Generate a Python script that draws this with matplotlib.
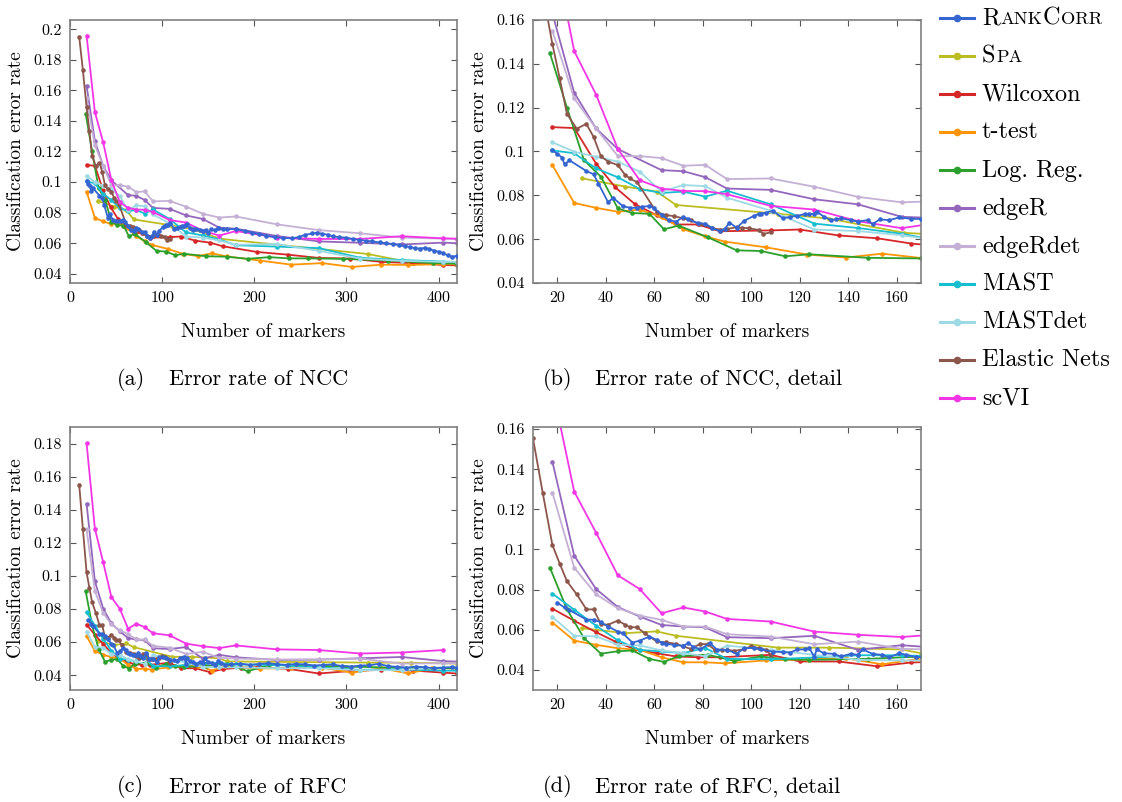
import matplotlib
matplotlib.use('Agg')
import matplotlib.pyplot as plt
from matplotlib.lines import Line2D
from matplotlib.ticker import FuncFormatter, MultipleLocator

plt.rcParams['font.family'] = ['cmr10', 'DejaVu Serif']
plt.rcParams['mathtext.fontset'] = 'cm'
plt.rcParams['axes.formatter.use_mathtext'] = True

# ---------------- data: NCC ----------------
ncc_rank_x = [18, 20, 22, 23, 25, 32, 35, 37, 41, 43, 47, 50, 53, 55, 58, 60, 63, 66, 69, 72, 74, 78, 81, 84,
              87, 89, 91, 94, 97, 101, 103, 104, 106, 109, 113, 116, 119, 122, 124, 126, 127, 130, 133, 135,
              137, 141, 144, 148, 150, 153, 157, 161, 166, 170, 180, 190, 198, 205, 213, 222, 231, 241, 248,
              255, 263, 268, 273, 280, 285, 292, 300, 307, 314, 321, 328, 336, 343, 350, 357, 364, 369, 374,
              380, 385, 390, 395, 400, 405, 410, 415, 420]
ncc_rank_y = [0.1005, 0.099, 0.0972, 0.0941, 0.096, 0.0911, 0.0896, 0.0853, 0.0768, 0.0789, 0.0751, 0.0743,
              0.0743, 0.0748, 0.0751, 0.0741, 0.0711, 0.0687, 0.068, 0.0702, 0.0692, 0.0672, 0.0671, 0.065,
              0.0637, 0.0645, 0.0676, 0.0652, 0.0683, 0.0706, 0.0715, 0.0717, 0.072, 0.073, 0.0695, 0.0702,
              0.0706, 0.0715, 0.0713, 0.0717, 0.0726, 0.0702, 0.0687, 0.069, 0.0695, 0.0687, 0.068, 0.0687,
              0.0669, 0.069, 0.0687, 0.0699, 0.0693, 0.0692, 0.0693, 0.068, 0.067, 0.066, 0.065, 0.064, 0.0635,
              0.0632, 0.064, 0.0655, 0.0664, 0.0668, 0.0662, 0.0656, 0.0645, 0.064, 0.0636, 0.0628, 0.0622,
              0.0616, 0.0612, 0.0605, 0.06, 0.0596, 0.0588, 0.0582, 0.0575, 0.0568, 0.0565, 0.057, 0.0562,
              0.0552, 0.0545, 0.0535, 0.052, 0.0512, 0.0518]
ncc_spa_x = [30, 48, 61, 69, 111, 132, 163, 323, 372, 420]
ncc_spa_y = [0.0878, 0.084, 0.0817, 0.0756, 0.0716, 0.0694, 0.0629, 0.053, 0.0472, 0.0472]
ncc_wil_x = [18, 27, 36, 44, 52, 61, 69, 78, 87, 108, 120, 136, 152, 166, 203, 237, 270, 304, 338, 372, 405, 420]
ncc_wil_y = [0.1111, 0.1107, 0.0945, 0.0836, 0.076, 0.0709, 0.0667, 0.0667, 0.0636, 0.064, 0.0644, 0.0617,
             0.0604, 0.058, 0.0543, 0.0525, 0.0504, 0.05, 0.0478, 0.047, 0.0458, 0.0455]
ncc_tt_x = [18, 27, 36, 45, 54, 63, 72, 81, 89, 106, 123, 139, 154, 170, 206, 240, 274, 306, 338, 367, 405, 420]
ncc_tt_y = [0.0938, 0.0765, 0.0743, 0.0725, 0.0735, 0.0701, 0.0645, 0.0613, 0.0589, 0.0563, 0.053, 0.0516,
            0.0534, 0.0514, 0.0487, 0.046, 0.047, 0.0445, 0.046, 0.0458, 0.0463, 0.0462]
ncc_lr_x = [17, 24, 31, 38, 45, 51, 58, 64, 70, 82, 94, 104, 114, 124, 148, 170, 193, 216, 238, 258, 296, 345, 394, 420]
ncc_lr_y = [0.1448, 0.12, 0.0961, 0.0885, 0.074, 0.0719, 0.0716, 0.0645, 0.0662, 0.0609, 0.0549, 0.0546,
            0.0522, 0.0531, 0.0515, 0.0512, 0.0498, 0.0509, 0.0501, 0.0501, 0.0498, 0.0487, 0.047, 0.0466]
ncc_edger_x = [18, 27, 36, 45, 63, 72, 81, 90, 108, 126, 144, 162, 180, 225, 270, 315, 360, 405, 420]
ncc_edger_y = [0.163, 0.1268, 0.1105, 0.1011, 0.0915, 0.091, 0.0883, 0.0831, 0.0825, 0.0782, 0.0759, 0.0702,
               0.0695, 0.0647, 0.0612, 0.0603, 0.0592, 0.0604, 0.06]
ncc_edgerdet_x = [18, 27, 36, 45, 54, 63, 72, 81, 90, 108, 126, 144, 162, 180, 225, 270, 315, 360, 405, 420]
ncc_edgerdet_y = [0.1551, 0.1242, 0.1105, 0.0979, 0.0979, 0.097, 0.0935, 0.0939, 0.0874, 0.0877, 0.0839,
                  0.0793, 0.0768, 0.0775, 0.0723, 0.0686, 0.0665, 0.0637, 0.063, 0.0628]
ncc_mast_x = [18, 27, 36, 45, 54, 63, 72, 81, 90, 108, 126, 144, 162, 180, 225, 270, 315, 360, 405, 420]
ncc_mast_y = [0.1005, 0.0992, 0.0923, 0.0882, 0.0829, 0.0811, 0.0817, 0.0794, 0.0821, 0.0759, 0.0671,
              0.0651, 0.0625, 0.0587, 0.0578, 0.0568, 0.0505, 0.049, 0.048, 0.0478]
ncc_mastdet_x = [18, 27, 36, 45, 54, 63, 72, 81, 90, 108, 126, 144, 162, 180, 225, 270, 315, 360, 405, 420]
ncc_mastdet_y = [0.1042, 0.0999, 0.0976, 0.0954, 0.0908, 0.0817, 0.0847, 0.0842, 0.0789, 0.073, 0.0644,
                 0.0637, 0.0618, 0.059, 0.0595, 0.055, 0.05, 0.0485, 0.0478, 0.0478]
ncc_enet_x = [10, 14, 18, 21, 24, 28, 32, 35, 38, 41, 45, 48, 50, 53, 61, 65, 68, 72, 75, 79, 84, 87, 90, 94,
              96, 99, 103, 105, 108]
ncc_enet_y = [0.195, 0.173, 0.149, 0.1334, 0.1172, 0.1104, 0.1126, 0.1066, 0.0978, 0.0954, 0.0938, 0.0893,
              0.0877, 0.0859, 0.0722, 0.071, 0.0705, 0.0695, 0.0686, 0.0669, 0.065, 0.0644, 0.0646, 0.0655,
              0.0652, 0.065, 0.0642, 0.0624, 0.0631]
ncc_scvi_x = [18, 27, 36, 45, 54, 63, 72, 81, 90, 108, 126, 144, 162, 180, 225, 270, 315, 360, 405, 420]
ncc_scvi_y = [0.1958, 0.1458, 0.126, 0.1011, 0.0869, 0.0831, 0.082, 0.0819, 0.0805, 0.0752, 0.0735, 0.0682,
              0.065, 0.068, 0.0637, 0.0628, 0.0628, 0.0646, 0.0632, 0.063]

# ---------------- data: RFC ----------------
rfc_rank_x = [20, 23, 25, 32, 35, 38, 41, 45, 47, 51, 54, 58, 61, 63, 65, 68, 72, 74, 76, 79, 83, 86, 90, 94,
              97, 101, 104, 109, 113, 116, 119, 122, 124, 126, 127, 130, 134, 137, 141, 144, 146, 150, 154,
              157, 161, 164, 168, 175, 185, 195, 205, 215, 225, 235, 245, 255, 265, 275, 285, 295, 305, 315,
              325, 335, 345, 355, 365, 375, 385, 395, 405, 415, 420]
rfc_rank_y = [0.0735, 0.0711, 0.0698, 0.0651, 0.065, 0.0637, 0.0616, 0.0591, 0.0583, 0.0536, 0.0546, 0.0566,
              0.055, 0.0536, 0.053, 0.0525, 0.052, 0.0533, 0.0516, 0.0503, 0.0533, 0.05, 0.05, 0.0481, 0.0507,
              0.0511, 0.0502, 0.0491, 0.0489, 0.0486, 0.0502, 0.0502, 0.0507, 0.0465, 0.0502, 0.0483, 0.048,
              0.0467, 0.048, 0.0475, 0.0502, 0.048, 0.0475, 0.0463, 0.0483, 0.0475, 0.0463, 0.0465, 0.047,
              0.0462, 0.0468, 0.0472, 0.0466, 0.0462, 0.0468, 0.0465, 0.0458, 0.0462, 0.0465, 0.0455, 0.0452,
              0.0458, 0.046, 0.0468, 0.0455, 0.045, 0.0445, 0.0452, 0.0448, 0.0442, 0.0445, 0.0448, 0.0445]
rfc_spa_x = [30, 48, 61, 69, 111, 132, 162, 170, 323, 370, 420]
rfc_spa_y = [0.0608, 0.0583, 0.0592, 0.057, 0.0511, 0.0511, 0.0502, 0.0483, 0.0476, 0.0475, 0.047]
rfc_wil_x = [18, 27, 36, 44, 52, 61, 69, 78, 87, 108, 120, 136, 152, 166, 186, 203, 237, 270, 304, 338, 372, 405, 420]
rfc_wil_y = [0.0705, 0.0645, 0.0588, 0.0541, 0.0503, 0.0483, 0.0467, 0.0463, 0.0463, 0.0475, 0.0442, 0.0442,
             0.0418, 0.0437, 0.0445, 0.0448, 0.0438, 0.041, 0.0425, 0.0432, 0.0428, 0.0415, 0.041]
rfc_tt_x = [18, 27, 36, 45, 54, 63, 72, 81, 89, 106, 123, 139, 154, 168, 206, 240, 274, 306, 338, 367, 393, 420]
rfc_tt_y = [0.0636, 0.0546, 0.0525, 0.0508, 0.05, 0.0463, 0.0438, 0.0438, 0.0433, 0.0447, 0.0453, 0.0458,
            0.0428, 0.0453, 0.044, 0.0442, 0.0445, 0.0415, 0.0442, 0.041, 0.0442, 0.044]
rfc_lr_x = [17, 24, 31, 38, 45, 51, 58, 64, 70, 82, 93, 104, 114, 124, 148, 170, 193, 216, 238, 300, 345, 420]
rfc_lr_y = [0.0909, 0.0702, 0.0559, 0.0481, 0.0493, 0.0497, 0.0455, 0.044, 0.0468, 0.0476, 0.0445, 0.0467,
            0.0453, 0.045, 0.0455, 0.0467, 0.0424, 0.0461, 0.0461, 0.0452, 0.0446, 0.0442]
rfc_edger_x = [18, 27, 36, 45, 54, 63, 72, 81, 90, 108, 126, 144, 162, 180, 225, 270, 315, 360, 405, 420]
rfc_edger_y = [0.1437, 0.0969, 0.0803, 0.0713, 0.0666, 0.0624, 0.0616, 0.0612, 0.0563, 0.0558, 0.057, 0.05,
               0.0523, 0.0508, 0.0492, 0.0494, 0.0502, 0.051, 0.0485, 0.0482]
rfc_edgerdet_x = [18, 27, 36, 45, 54, 63, 72, 81, 90, 108, 126, 144, 162, 180, 225, 270, 315, 360, 405, 420]
rfc_edgerdet_y = [0.1283, 0.0909, 0.0777, 0.0707, 0.0671, 0.0649, 0.0616, 0.0616, 0.0578, 0.0566, 0.0528,
                  0.0541, 0.0505, 0.05, 0.0495, 0.0495, 0.05, 0.047, 0.0472, 0.0472]
rfc_mast_x = [18, 27, 36, 45, 54, 63, 72, 81, 90, 108, 126, 144, 162, 180, 225, 270, 315, 360, 405, 420]
rfc_mast_y = [0.078, 0.07, 0.062, 0.0547, 0.05, 0.0492, 0.0484, 0.0509, 0.0455, 0.0453, 0.0462, 0.0473,
              0.0473, 0.0465, 0.0461, 0.0447, 0.0432, 0.0435, 0.0427, 0.0427]
rfc_mastdet_x = [18, 27, 36, 45, 54, 63, 72, 81, 90, 108, 126, 144, 162, 180, 225, 270, 315, 360, 405, 420]
rfc_mastdet_y = [0.0664, 0.057, 0.0567, 0.0526, 0.0522, 0.0497, 0.0484, 0.0468, 0.0521, 0.05, 0.0475, 0.045,
                 0.0447, 0.0447, 0.0442, 0.0442, 0.043, 0.043, 0.0449, 0.0449]
rfc_enet_x = [10, 14, 18, 21, 24, 28, 32, 35, 38, 41, 45, 48, 50, 53, 56, 61, 65, 69, 72, 75, 79, 82, 85, 88,
              90, 93, 97, 100, 103, 106, 108]
rfc_enet_y = [0.1553, 0.1283, 0.1022, 0.093, 0.0842, 0.0777, 0.0702, 0.0701, 0.0628, 0.0625, 0.0646, 0.0625,
              0.0613, 0.0612, 0.0583, 0.0542, 0.0537, 0.053, 0.0517, 0.0505, 0.053, 0.0528, 0.05, 0.05, 0.05,
              0.0495, 0.0503, 0.0517, 0.0508, 0.05, 0.0475]
rfc_scvi_x = [18, 27, 36, 45, 54, 63, 72, 81, 90, 108, 126, 144, 162, 180, 225, 270, 315, 360, 405]
rfc_scvi_y = [0.1804, 0.1288, 0.1084, 0.0871, 0.0803, 0.0682, 0.0711, 0.0691, 0.0654, 0.0641, 0.0591, 0.0575,
              0.0564, 0.058, 0.0556, 0.0552, 0.0531, 0.0537, 0.0552]

methods = ['RankCorr', 'Spa', 'Wilcoxon', 't-test', 'Log. Reg.', 'edgeR', 'edgeRdet', 'MAST', 'MASTdet',
           'Elastic Nets', 'scVI']
colors = ['#3465d0', '#bcbd22', '#d62728', '#ff9505', '#2ca02c', '#9467bd', '#c5b0d5', '#17becf', '#9edae5',
          '#8c564b', '#f236e6']

ncc = [(ncc_rank_x, ncc_rank_y), (ncc_spa_x, ncc_spa_y), (ncc_wil_x, ncc_wil_y), (ncc_tt_x, ncc_tt_y),
       (ncc_lr_x, ncc_lr_y), (ncc_edger_x, ncc_edger_y), (ncc_edgerdet_x, ncc_edgerdet_y),
       (ncc_mast_x, ncc_mast_y), (ncc_mastdet_x, ncc_mastdet_y), (ncc_enet_x, ncc_enet_y),
       (ncc_scvi_x, ncc_scvi_y)]
rfc = [(rfc_rank_x, rfc_rank_y), (rfc_spa_x, rfc_spa_y), (rfc_wil_x, rfc_wil_y), (rfc_tt_x, rfc_tt_y),
       (rfc_lr_x, rfc_lr_y), (rfc_edger_x, rfc_edger_y), (rfc_edgerdet_x, rfc_edgerdet_y),
       (rfc_mast_x, rfc_mast_y), (rfc_mastdet_x, rfc_mastdet_y), (rfc_enet_x, rfc_enet_y),
       (rfc_scvi_x, rfc_scvi_y)]

# plotting order: draw RankCorr above most others
order = [1, 2, 3, 4, 5, 6, 7, 8, 9, 10, 0]

W, H = 1122, 802
fig = plt.figure(figsize=(W / 100, H / 100), dpi=100)


def box(l, r, t, b):
    return [l / W, 1 - b / H, (r - l) / W, (b - t) / H]


fmt = FuncFormatter(lambda v, p: ('%g' % round(v, 4)))


def panel(rect, data, xlim, ylim, xstep, yticks):
    ax = fig.add_axes(rect)
    for i in order:
        x, y = data[i]
        ax.plot(x, y, '-o', color=colors[i], lw=1.3, ms=3.3, mew=0, zorder=3 if i == 0 else 2)
    ax.set_xlim(*xlim)
    ax.set_ylim(*ylim)
    ax.xaxis.set_major_locator(MultipleLocator(xstep))
    ax.set_yticks(yticks)
    ax.yaxis.set_major_formatter(fmt)
    ax.xaxis.set_major_formatter(fmt)
    ax.tick_params(direction='in', top=True, right=True, length=4, width=0.8, color='#555555',
                   labelsize=11.5, pad=6)
    for s in ax.spines.values():
        s.set_color('#808080')
        s.set_linewidth(1.2)
    ax.set_ylabel('Classification error rate', fontsize=14, labelpad=6)
    ax.set_xlabel('Number of markers', fontsize=14, labelpad=13)
    return ax


yt_a = [0.04, 0.06, 0.08, 0.1, 0.12, 0.14, 0.16, 0.18, 0.2]
yt_b = [0.04, 0.06, 0.08, 0.1, 0.12, 0.14, 0.16]
yt_c = [0.04, 0.06, 0.08, 0.1, 0.12, 0.14, 0.16, 0.18]

panel(box(70, 457, 20, 283), ncc, (0, 420), (0.034, 0.206), 100, yt_a)
panel(box(533, 921, 20, 283), ncc, (10, 170), (0.04, 0.16), 20, yt_b)
panel(box(70, 457, 427, 690), rfc, (0, 420), (0.031, 0.1903), 100, yt_c)
panel(box(533, 921, 427, 690), rfc, (10, 170), (0.03, 0.161), 20, yt_b)

captions = [('(a)', 'Error rate of NCC', 117, 379), ('(b)', 'Error rate of NCC, detail', 543, 379),
            ('(c)', 'Error rate of RFC', 117, 787), ('(d)', 'Error rate of RFC, detail', 543, 787)]
for tag, txt, xp, yp in captions:
    fig.text(xp / W, 1 - yp / H, tag, fontsize=16, va='center', ha='left')
    fig.text((xp + 52) / W, 1 - yp / H, txt, fontsize=16, va='center', ha='left')

# ---------------- legend (manual, with small caps) ----------------
labels = [[('R', 1), ('ANK', 0), ('C', 1), ('ORR', 0)], [('S', 1), ('PA', 0)], [('Wilcoxon', 1)],
          [('t-test', 1)], [('Log. Reg.', 1)], [('edgeR', 1)], [('edgeRdet', 1)], [('MAST', 1)],
          [('MASTdet', 1)], [('Elastic Nets', 1)], [('scVI', 1)]]
big, small = 17.5, 13.2
renderer = fig.canvas.get_renderer()
for i in range(len(methods)):
    yc = 18 + i * 38
    yf = 1 - yc / H
    fig.add_artist(Line2D([940 / W, 974 / W], [yf, yf], transform=fig.transFigure, color=colors[i], lw=2.2))
    fig.add_artist(Line2D([957 / W], [yf], transform=fig.transFigure, color=colors[i], marker='o', ms=5.5,
                          mew=0))
    xpix = 982
    ybase = 1 - (yc + 6.5) / H
    for piece, isbig in labels[i]:
        t = fig.text(xpix / W, ybase, piece, fontsize=big if isbig else small, va='baseline', ha='left')
        ext = t.get_window_extent(renderer=renderer)
        xpix += ext.width + 0.5

fig.savefig('out.png', dpi=100)
